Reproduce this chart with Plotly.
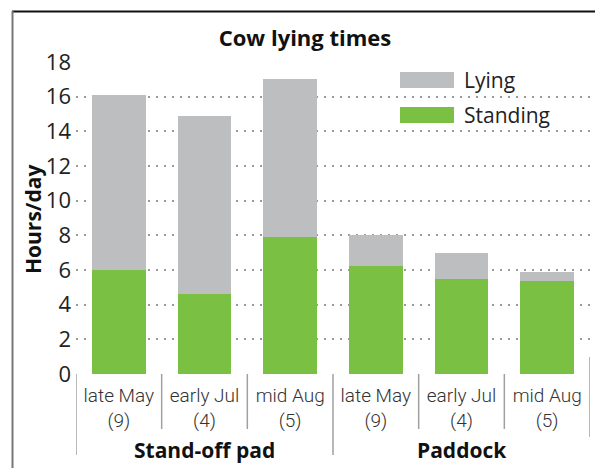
import plotly.graph_objects as go

groups = ["Stand-off pad", "Stand-off pad", "Stand-off pad", "Paddock", "Paddock", "Paddock"]
periods = ["late May", "early Jul", "mid Aug", "late May", "early Jul", "mid Aug"]
counts = ["(9)", "(4)", "(5)", "(9)", "(4)", "(5)"]
standing = [6.0, 4.6, 7.9, 6.25, 5.5, 5.35]
lying = [10.1, 10.3, 9.1, 1.75, 1.5, 0.55]
y_ticks = [0, 2, 4, 6, 8, 10, 12, 14, 16, 18]

GREEN = "#7AC143"
GREY = "#BDBEC0"
MAIN = "Open Sans, Noto Sans, sans-serif"
NARROW = "Noto Sans Condensed, Roboto, Open Sans, sans-serif"

xs = list(range(len(periods)))
ticktext = [f"{p}<br>{c}" for p, c in zip(periods, counts)]

fig = go.Figure()
fig.add_trace(go.Bar(x=xs, y=standing, name="Standing", marker=dict(color=GREEN, line=dict(width=0)),
                     width=0.63, showlegend=False))
fig.add_trace(go.Bar(x=xs, y=lying, name="Lying", marker=dict(color=GREY, line=dict(width=0)),
                     width=0.63, showlegend=False))

L, R, T, B = 76, 5, 62, 94
W, H = 595, 468
pw, ph = W - L - R, H - T - B

def px(xp):
    return (xp - L) / pw

def py(yp):
    return (H - B - yp) / ph

shapes = []
# frame
shapes.append(dict(type="line", xref="paper", yref="paper", x0=px(12), x1=px(595), y0=py(11.5), y1=py(11.5),
                   line=dict(color="#111111", width=2)))
shapes.append(dict(type="line", xref="paper", yref="paper", x0=px(12.5), x1=px(12.5), y0=py(11), y1=py(468),
                   line=dict(color="#777777", width=2)))
# category dividers
for b in [0.5, 1.5, 3.5, 4.5]:
    shapes.append(dict(type="line", xref="x", yref="paper", x0=b, x1=b, y0=py(374), y1=py(429),
                       line=dict(color="#A0A0A0", width=1.5)))
for b in [-0.5, 2.5]:
    shapes.append(dict(type="line", xref="x", yref="paper", x0=b, x1=b, y0=py(374), y1=py(455),
                       line=dict(color="#A0A0A0", width=1.5)))
shapes.append(dict(type="line", xref="x", yref="paper", x0=5.5, x1=5.5, y0=py(357), y1=py(437),
                   line=dict(color="#A0A0A0", width=1.5)))
# legend swatches
shapes.append(dict(type="rect", xref="paper", yref="paper", x0=px(400), x1=px(454), y0=py(88), y1=py(72),
                   fillcolor=GREY, line=dict(width=0)))
shapes.append(dict(type="rect", xref="paper", yref="paper", x0=px(400), x1=px(454), y0=py(123), y1=py(107),
                   fillcolor=GREEN, line=dict(width=0)))

annotations = [
    dict(text="Lying", xref="paper", yref="paper", x=px(462), y=py(80), xanchor="left", yanchor="middle",
         showarrow=False, font=dict(family=MAIN, size=21, color="#222222")),
    dict(text="Standing", xref="paper", yref="paper", x=px(462), y=py(115), xanchor="left", yanchor="middle",
         showarrow=False, font=dict(family=MAIN, size=21, color="#222222")),
    dict(text="<b>Hours/day</b>", xref="paper", yref="paper", x=px(33), y=py(220), textangle=-90,
         xanchor="center", yanchor="middle", showarrow=False,
         font=dict(family=MAIN, size=21, color="#111111")),
]
# group labels
seen = []
for g in groups:
    if g not in seen:
        seen.append(g)
for g in seen:
    idx = [i for i, gg in enumerate(groups) if gg == g]
    annotations.append(dict(text=f"<b>{g}</b>", xref="x", yref="paper", x=sum(idx) / len(idx), y=py(450),
                            xanchor="center", yanchor="middle", showarrow=False,
                            font=dict(family=MAIN, size=21, color="#111111")))

fig.update_layout(
    width=W, height=H,
    margin=dict(l=L, r=R, t=T, b=B),
    barmode="stack",
    paper_bgcolor="white", plot_bgcolor="white",
    title=dict(text="<b>Cow lying times</b>", x=305 / W, xanchor="center", y=1 - 38 / H, yanchor="middle",
               yref="container", xref="container",
               font=dict(family=MAIN, size=22, color="#111111")),
    xaxis=dict(range=[-0.5, 5.5], tickvals=xs, ticktext=ticktext, showgrid=False, zeroline=False,
               showline=False, ticks="",
               tickfont=dict(family=NARROW, size=19, color="#333333", weight=300),
               ticklabelstandoff=8),
    yaxis=dict(range=[0, 18], tickvals=y_ticks, showgrid=True, gridcolor="#9A9A9A", griddash="2px,6px",
               gridwidth=1.6, zeroline=False, showline=False, ticks="",
               tickfont=dict(family=MAIN, size=22, color="#222222", weight=400), ticklabelstandoff=4),
    shapes=shapes,
    annotations=annotations,
    showlegend=False,
)

fig.write_html("out.html", config={"displayModeBar": False},
               post_script="document.body.style.margin='0';document.body.style.padding='0';")
